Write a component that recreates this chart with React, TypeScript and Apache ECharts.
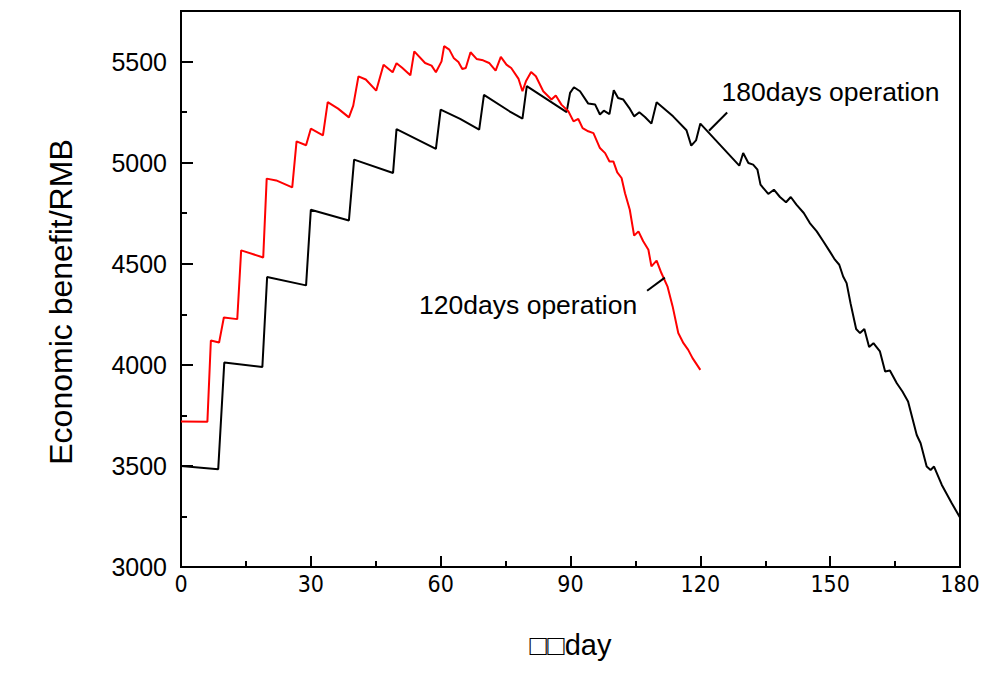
import React, { useEffect, useRef } from "react";
import * as echarts from "echarts";

const xTicks = [0, 30, 60, 90, 120, 150, 180];
const yTicks = [3000, 3500, 4000, 4500, 5000, 5500];

const days120: number[] = [0, 6.1, 6.9, 8.8, 9.9, 13, 13.9, 19, 19.8, 22, 25.7, 26.7, 28.9, 30, 32.8, 33.9, 36.3, 38.8, 39.8, 41, 42.7, 45.1, 46.8, 48.9, 49.8, 51.1, 53, 53.9, 56.4, 57.9, 58.9, 60.2, 60.8, 62, 63, 64.1, 65, 65.8, 66.9, 68.3, 69.8, 71.2, 72.7, 73.9, 75.2, 76.3, 78, 78.9, 79.7, 80.9, 82, 83.7, 85.6, 86.6, 87.9, 89.5, 90.7, 91.8, 92.8, 94.1, 95.3, 96.8, 98, 99, 99.9, 100.8, 101.8, 102.6, 103.7, 104.7, 105.7, 106.8, 108, 108.7, 109.9, 111, 112.4, 113.6, 114.9, 116.1, 117.2, 118.2, 120];
const benefit120: number[] = [3720, 3719, 4120, 4110, 4234, 4226, 4566, 4531, 4921, 4912, 4878, 5105, 5086, 5168, 5135, 5299, 5267, 5224, 5282, 5427, 5411, 5356, 5484, 5447, 5492, 5469, 5432, 5550, 5493, 5480, 5447, 5501, 5576, 5559, 5518, 5498, 5463, 5468, 5546, 5513, 5506, 5493, 5455, 5523, 5485, 5468, 5414, 5353, 5402, 5448, 5427, 5353, 5312, 5332, 5287, 5254, 5204, 5216, 5171, 5155, 5146, 5072, 5047, 5006, 5006, 4952, 4924, 4849, 4767, 4639, 4660, 4611, 4569, 4487, 4515, 4454, 4388, 4289, 4157, 4107, 4074, 4033, 3975];

const days180: number[] = [0, 8.6, 10, 18.8, 19.9, 28.9, 30, 38.8, 40, 49, 49.8, 58.9, 60, 64.5, 68.9, 70, 75.9, 78.9, 79.9, 89.1, 89.9, 90.8, 92.2, 94.1, 95.7, 96.8, 97.7, 99, 100, 101, 102.2, 103.6, 104.7, 105.9, 107.2, 108.7, 109.9, 113.7, 116.8, 117.9, 119, 120, 129, 129.9, 131.1, 132.2, 133.2, 133.9, 135.7, 137, 138.4, 139.8, 140.9, 142.2, 143.9, 145.3, 146.9, 148.4, 149.9, 151.1, 152.1, 153, 153.8, 154.7, 156, 156.9, 157.9, 159, 160, 161.5, 162.7, 163.8, 165.4, 166.7, 168, 169, 170, 170.9, 172.3, 173.2, 174, 175.8, 178.1, 180];
const benefit180: number[] = [3500, 3484, 4011, 3989, 4434, 4393, 4767, 4714, 5015, 4949, 5166, 5068, 5262, 5216, 5163, 5335, 5254, 5218, 5378, 5250, 5345, 5373, 5353, 5292, 5287, 5238, 5257, 5240, 5358, 5320, 5312, 5270, 5229, 5249, 5226, 5193, 5299, 5229, 5160, 5084, 5110, 5193, 4985, 5048, 4998, 4990, 4965, 4891, 4845, 4866, 4830, 4804, 4830, 4792, 4751, 4701, 4660, 4611, 4561, 4520, 4495, 4437, 4404, 4305, 4177, 4157, 4177, 4088, 4107, 4066, 3967, 3972, 3909, 3868, 3819, 3736, 3653, 3612, 3497, 3480, 3497, 3406, 3315, 3245];

const seriesNames = ["120days operation", "180days operation"];
const xTitle = "□□day";
const yTitle = "Economic benefit/RMB";

// annotation anchors in data coordinates: [lineStart, lineEnd, textAnchor]
const ann120: number[][] = [[107.7, 4366], [111.8, 4431], [105.4, 4297]];
const ann180: number[][] = [[122, 5158], [126.2, 5248], [124.9, 5351]];

export default function App() {
  const ref = useRef<HTMLDivElement>(null);
  useEffect(() => {
    const chart = echarts.init(ref.current!, null, { renderer: "svg" });
    const toPairs = (xs: number[], ys: number[]) => xs.map((x, i) => [x, ys[i]]);
    chart.setOption({
      animation: false,
      backgroundColor: "#fff",
      grid: {
        left: 181, top: 11, right: 43, bottom: 111,
        show: true, borderColor: "#000", borderWidth: 2, backgroundColor: "transparent",
      },
      xAxis: {
        type: "value", min: 0, max: 180, interval: 30,
        name: xTitle, nameLocation: "middle", nameGap: 63,
        nameTextStyle: { fontSize: 29, color: "#000", fontFamily: "Liberation Sans, Arial, sans-serif" },
        axisLine: { lineStyle: { color: "#000", width: 2 } },
        axisTick: { inside: true, length: 11, lineStyle: { color: "#000", width: 2 } },
        minorTick: { show: true, splitNumber: 2, length: 6, lineStyle: { color: "#000", width: 2 } },
        axisLabel: {
          margin: 5, fontSize: 23, color: "#000",
          fontFamily: "Liberation Sans Narrow, DejaVu Sans Condensed, Arial, sans-serif",
          formatter: (v: number) => (xTicks.includes(v) ? String(v) : ""),
        },
        splitLine: { show: false },
      },
      yAxis: {
        type: "value", min: 3000, max: 5750, interval: 500,
        name: yTitle, nameLocation: "middle", nameGap: 104, nameRotate: 90,
        nameTextStyle: { fontSize: 32, color: "#000", fontFamily: "Liberation Sans, Arial, sans-serif", padding: [0, 0, 0, -26] },
        axisLine: { lineStyle: { color: "#000", width: 2 } },
        axisTick: { inside: true, length: 12, lineStyle: { color: "#000", width: 2 } },
        minorTick: { show: true, splitNumber: 2, length: 6, lineStyle: { color: "#000", width: 2 } },
        axisLabel: {
          margin: 14, fontSize: 25, color: "#000", showMaxLabel: false,
          fontFamily: "Liberation Sans, Arial, sans-serif",
          formatter: (v: number) => (yTicks.includes(v) ? String(v) : ""),
        },
        splitLine: { show: false },
      },
      series: [
        {
          name: seriesNames[0], type: "line", data: toPairs(days120, benefit120),
          showSymbol: false, symbol: "none", lineStyle: { color: "#ff0000", width: 2 }, z: 3,
        },
        {
          name: seriesNames[1], type: "line", data: toPairs(days180, benefit180),
          showSymbol: false, symbol: "none", lineStyle: { color: "#000", width: 2 }, z: 2,
        },
      ],
    });
    const px = (p: number[]) => chart.convertToPixel({ gridIndex: 0 }, p) as number[];
    const mk = (a: number[][], label: string, align: string) => {
      const s = px(a[0]);
      const e = px(a[1]);
      const t = px(a[2]);
      return [
        { type: "line", shape: { x1: s[0], y1: s[1], x2: e[0], y2: e[1] }, style: { stroke: "#000", lineWidth: 2 }, z: 10 },
        {
          type: "text", x: t[0], y: t[1], z: 10,
          style: { text: label, fill: "#000", fontSize: 26.5, fontFamily: "Liberation Sans, Arial, sans-serif", align, verticalAlign: "middle" },
        },
      ];
    };
    chart.setOption({
      graphic: [...mk(ann120, seriesNames[0], "right"), ...mk(ann180, seriesNames[1], "left")],
    });
    return () => chart.dispose();
  }, []);
  return <div ref={ref} style={{ position: "fixed", left: 0, top: 0, width: 1003, height: 678 }} />;
}
